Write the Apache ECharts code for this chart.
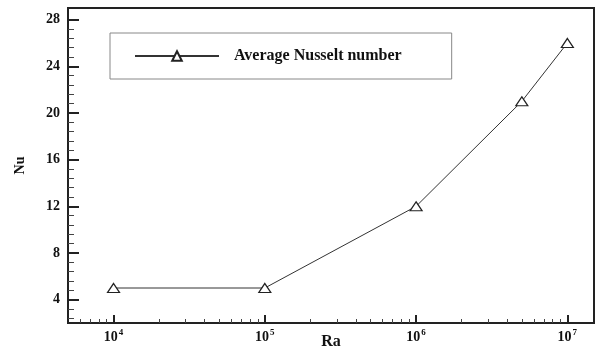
<!DOCTYPE html>
<html>
<head>
<meta charset="utf-8">
<script src="https://cdn.jsdelivr.net/npm/echarts@6/dist/echarts.min.js"></script>
<style>
  html, body { margin: 0; padding: 0; background: #fff; }
  #chart-container { width: 600px; height: 354px; }
</style>
</head>
<body>
<div id="chart-container"></div>
<script>
// data
var raValues = [1e4, 1e5, 1e6, 5e6, 1e7];
var nuValues = [5, 5, 12, 21, 26];
var seriesName = "Average Nusselt number";

// axis ticks
var xMajorTicks = [1e4, 1e5, 1e6, 1e7];
var yMajorTicks = [4, 8, 12, 16, 20, 24, 28];
var xMinorTicks = [];
[1e3, 1e4, 1e5, 1e6].forEach(function (d) {
  for (var k = 2; k <= 9; k++) {
    var v = k * d;
    if (v > 5000 && v < 1.5e7) xMinorTicks.push(v);
  }
});
var yMinorTicks = [];
for (var i = 3; i <= 35; i++) {
  var v = Math.round(i * 0.8 * 10) / 10;
  if (v % 4 !== 0 && v < 28) yMinorTicks.push(v);
}

var font = '"Liberation Serif", "Times New Roman", serif';
var axisColor = "#222";

var dom = document.getElementById("chart-container");
var myChart = echarts.init(dom, null, { renderer: "canvas" });

var option = {
  animation: false,
  backgroundColor: "#fff",
  grid: {
    show: true,
    left: 68,
    right: 6,
    top: 8,
    bottom: 31,
    outerBoundsMode: "none",
    containLabel: false,
    borderColor: axisColor,
    borderWidth: 2,
  },
  legend: {
    left: 110,
    top: 33,
    padding: [15, 50, 15, 24],
    borderColor: "#888",
    borderWidth: 1,
    itemWidth: 84,
    itemHeight: 12,
    textStyle: {
      fontFamily: font,
      fontWeight: "bold",
      fontSize: 16,
      color: "#111",
      padding: [0, 0, 0, 10],
    },
    data: [seriesName],
  },
  xAxis: [
    {
      type: "log",
      logBase: 10,
      min: 5000,
      max: 1.5e7,
      name: "Ra",
      nameLocation: "middle",
      nameGap: 11,
      nameMoveOverlap: false,
      nameTextStyle: { fontFamily: font, fontWeight: "bold", fontSize: 16, color: "#111" },
      axisLine: { lineStyle: { color: axisColor, width: 2 } },
      axisTick: {
        inside: true,
        length: 8,
        customValues: xMajorTicks,
        lineStyle: { color: axisColor, width: 2 },
      },
      axisLabel: {
        customValues: xMajorTicks,
        margin: 5,
        formatter: function (value) {
          return "{b|10}{s|" + Math.round(Math.log10(value)) + "}";
        },
        rich: {
          b: { fontFamily: font, fontWeight: "bold", fontSize: 14, color: "#111", lineHeight: 16, verticalAlign: "bottom" },
          s: { fontFamily: font, fontWeight: "bold", fontSize: 9, color: "#111", lineHeight: 16, verticalAlign: "top", padding: [0, 0, 6, 1] },
        },
      },
      splitLine: { show: false },
    },
    {
      type: "log",
      logBase: 10,
      min: 5000,
      max: 1.5e7,
      position: "bottom",
      axisLine: { show: false },
      axisTick: {
        inside: true,
        length: 4,
        customValues: xMinorTicks,
        lineStyle: { color: "#444", width: 1 },
      },
      axisLabel: { show: false },
      splitLine: { show: false },
    },
  ],
  yAxis: [
    {
      type: "value",
      min: 2,
      max: 29,
      name: "Nu",
      nameLocation: "middle",
      nameGap: 41,
      nameMoveOverlap: false,
      nameTextStyle: { fontFamily: font, fontWeight: "bold", fontSize: 14, color: "#111" },
      axisLine: { show: true, lineStyle: { color: axisColor, width: 2 } },
      axisTick: {
        show: true,
        inside: true,
        length: 11,
        customValues: yMajorTicks,
        lineStyle: { color: axisColor, width: 2 },
      },
      axisLabel: {
        customValues: yMajorTicks,
        margin: 8,
        fontFamily: font,
        fontWeight: "bold",
        fontSize: 14,
        color: "#111",
      },
      splitLine: { show: false },
    },
    {
      type: "value",
      min: 2,
      max: 29,
      position: "left",
      axisLine: { show: false },
      axisTick: {
        show: true,
        inside: true,
        length: 6,
        customValues: yMinorTicks,
        lineStyle: { color: "#444", width: 1 },
      },
      axisLabel: { show: false },
      splitLine: { show: false },
    },
  ],
  series: [
    {
      name: seriesName,
      type: "line",
      data: raValues.map(function (ra, i) {
        return [ra, nuValues[i]];
      }),
      symbol: "triangle",
      symbolSize: [12, 9],
      showAllSymbol: true,
      lineStyle: { color: "#333", width: 1 },
      itemStyle: { color: "#fff", borderColor: "#222", borderWidth: 1.2 },
      z: 3,
    },
  ],
};

myChart.setOption(option);
window.addEventListener("resize", myChart.resize);
</script>
</body>
</html>
